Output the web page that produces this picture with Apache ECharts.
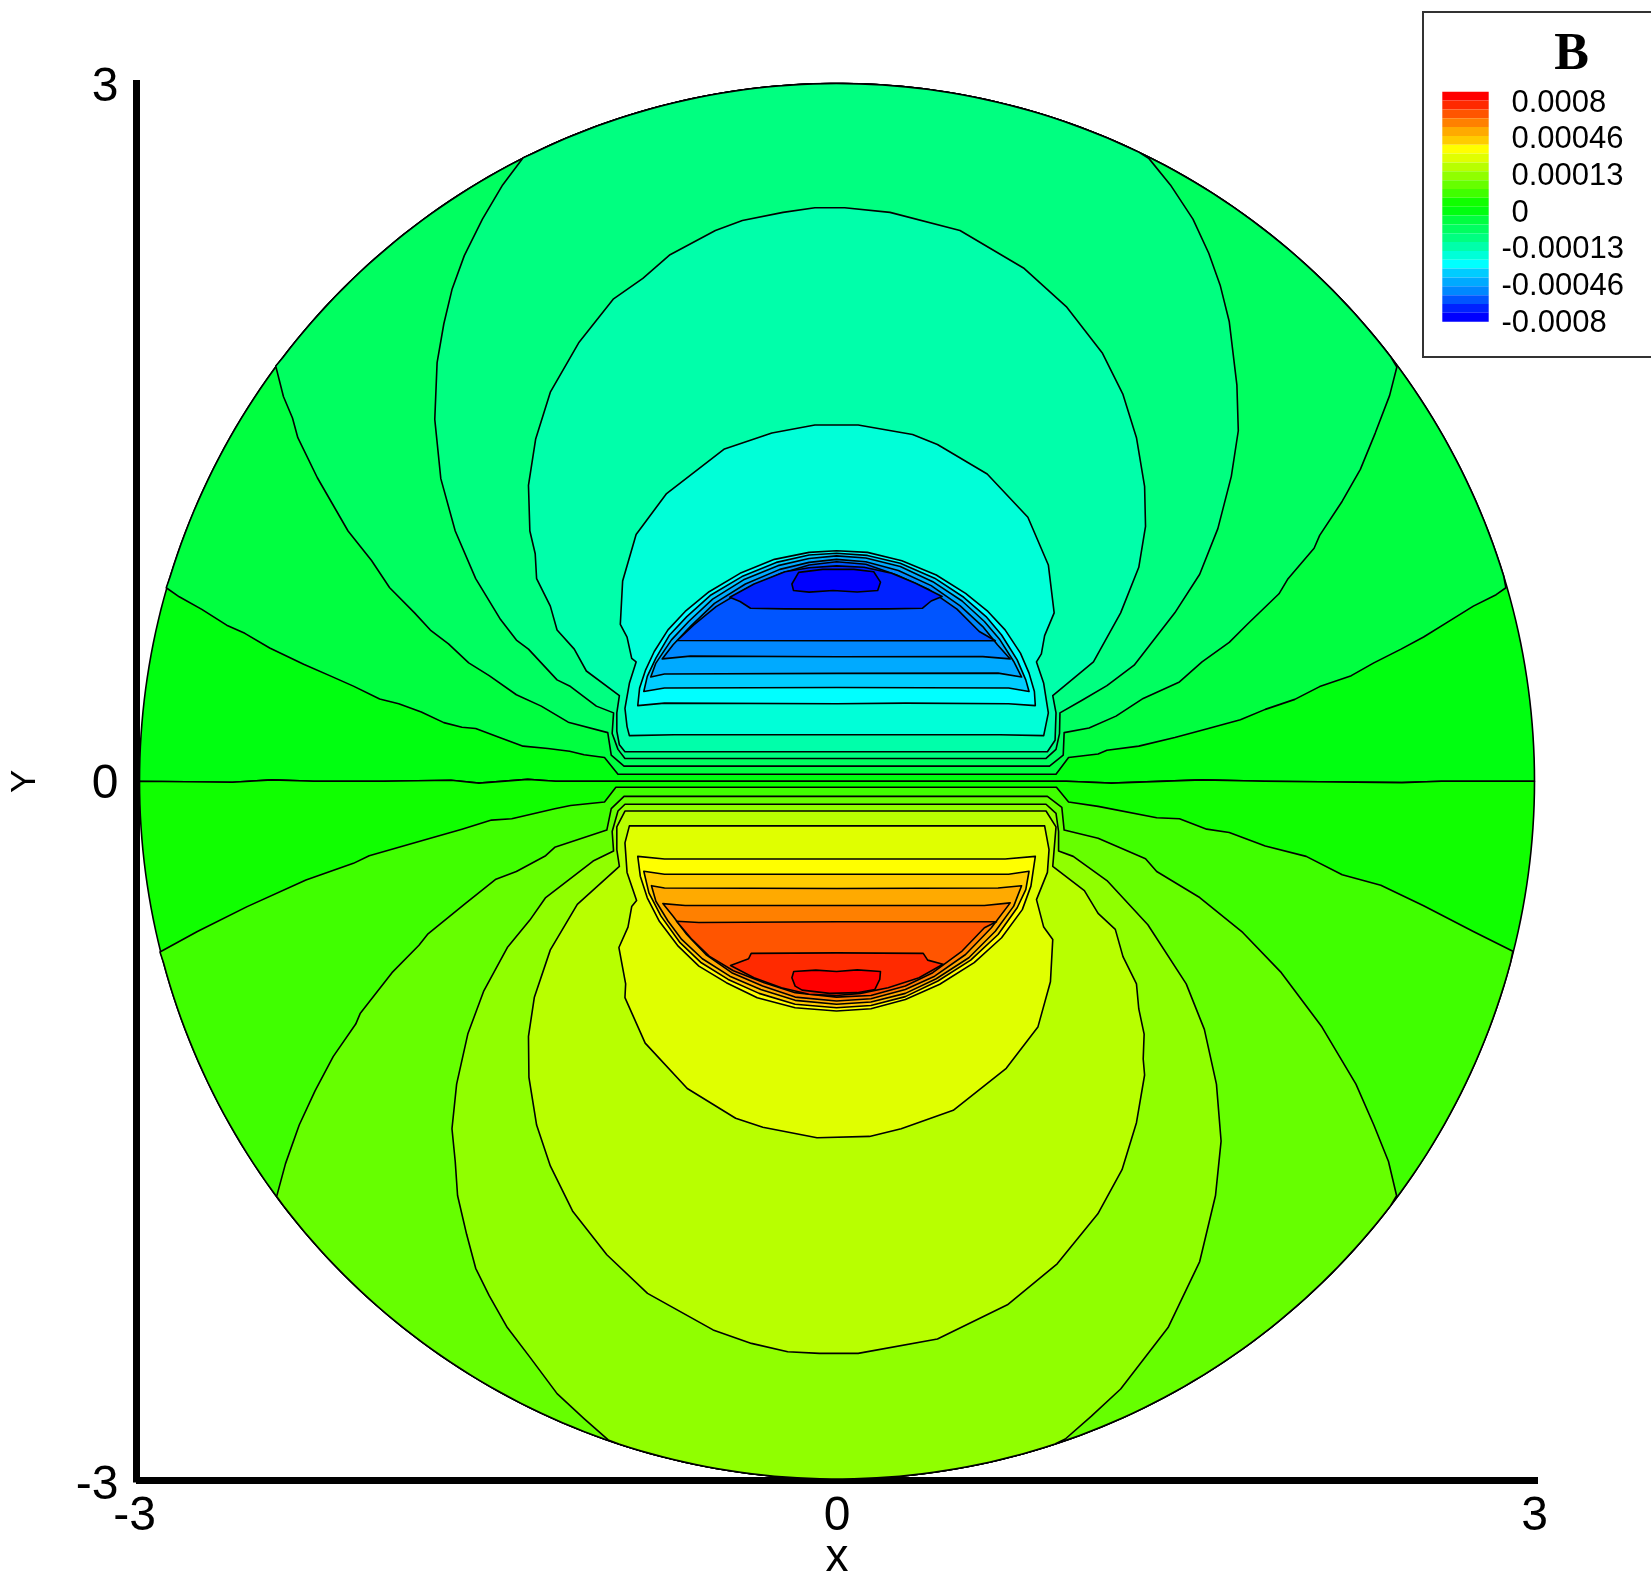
<!DOCTYPE html>
<html>
<head>
<meta charset="utf-8">
<title>B contour</title>
<script src="https://cdn.jsdelivr.net/npm/echarts@6/dist/echarts.min.js"></script>
<style>
  html, body { margin: 0; padding: 0; background: #fff; }
  #chart { width: 1651px; height: 1577px; }
</style>
</head>
<body>
<div id="chart"></div>
<script>
// axis
const xTicks = [-3, 0, 3];
const yTicks = [-3, 0, 3];
const legendLabels = ['0.0008', '0.00046', '0.00013', '0', '-0.00013', '-0.00046', '-0.0008'];

// colour levels, top of the legend to the bottom
const levelColors = [
  '#ff0000', '#ff2a00', '#ff5500', '#ff8000', '#ffaa00', '#ffcc00', '#ffff00',
  '#e0ff00', '#b8ff00', '#90ff00', '#66ff00', '#40ff00', '#10ff00',
  '#00ff10', '#00ff40', '#00ff60', '#00ff80', '#00ffaa', '#00ffd8', '#00ffff',
  '#00ccff', '#00aaff', '#0088ff', '#0055ff', '#0022ff', '#0000ff'
];

// contour lines, in x/y data units
const zeroLine = [[-3,0],[-2.6,-.004],[-2.43,.006],[-2.25,0],[-1.95,0],[-1.66,.004],[-1.54,-.008],[-1.33,.008],[-1.21,0],[-.99,0],[0,0],[.986,0],[1.18,-.008],[1.57,.006],[1.84,0],[2.43,-.006],[2.6,0],[3,0]];

// upper half (negative B): first three lines end on the rim
const upA = [[-2.885,.832],[-2.829,.793],[-2.732,.739],[-2.625,.671],[-2.547,.636],[-2.44,.573],[-2.294,.503],[-2.177,.452],[-2.08,.409],[-1.967,.354],[-1.885,.333],[-1.788,.298],[-1.691,.252],[-1.613,.232],[-1.554,.227],[-1.457,.19],[-1.35,.151],[-1.243,.141],[-1.15,.129],[-1.088,.114],[-1,.102],[-.942,.03],[.942,.03],[.996,.102],[1.123,.117],[1.161,.133],[1.298,.151],[1.453,.188],[1.589,.225],[1.735,.264],[1.842,.309],[1.969,.352],[2.076,.407],[2.212,.454],[2.309,.509],[2.426,.568],[2.523,.62],[2.621,.681],[2.737,.753],[2.835,.802],[2.877,.832]];
const upB = [[-2.414,1.785],[-2.381,1.654],[-2.342,1.562],[-2.319,1.477],[-2.235,1.305],[-2.103,1.076],[-2.002,.949],[-1.924,.832],[-1.817,.724],[-1.749,.65],[-1.671,.591],[-1.584,.509],[-1.496,.454],[-1.379,.372],[-1.272,.323],[-1.156,.254],[-.986,.209],[-.971,.112],[-.916,.065],[.914,.065],[.973,.112],[.977,.209],[1.084,.229],[1.2,.28],[1.317,.356],[1.473,.427],[1.57,.513],[1.687,.597],[1.765,.675],[1.901,.806],[1.94,.871],[2.052,1.002],[2.076,1.057],[2.173,1.204],[2.251,1.341],[2.315,1.497],[2.377,1.659],[2.408,1.781]];
const upC = [[-1.35,2.681],[-1.438,2.564],[-1.525,2.417],[-1.603,2.26],[-1.656,2.114],[-1.691,1.967],[-1.72,1.8],[-1.73,1.556],[-1.704,1.301],[-1.642,1.076],[-1.554,.871],[-1.447,.695],[-1.379,.607],[-1.327,.568],[-1.204,.436],[-1.146,.407],[-1.035,.323],[-.961,.294],[-.967,.205],[-.942,.137],[-.912,.098],[.899,.098],[.942,.137],[.957,.205],[.959,.294],[1.054,.348],[1.161,.411],[1.278,.499],[1.453,.724],[1.56,.89],[1.638,1.086],[1.696,1.311],[1.726,1.507],[1.72,1.703],[1.687,1.977],[1.648,2.133],[1.599,2.27],[1.531,2.417],[1.434,2.564],[1.342,2.677]];
const upD = [[-.095,2.466],[-.232,2.446],[-.407,2.411],[-.523,2.368],[-.718,2.264],[-.835,2.162],[-.961,2.074],[-1.111,1.885],[-1.233,1.673],[-1.296,1.472],[-1.327,1.272],[-1.321,1.076],[-1.298,.978],[-1.292,.871],[-1.233,.753],[-1.204,.65],[-1.13,.568],[-1.078,.474],[-.936,.368],[-.947,.294],[-.947,.215],[-.936,.157],[-.912,.127],[.905,.127],[.938,.176],[.942,.294],[.928,.368],[1.103,.513],[1.22,.724],[1.298,.92],[1.327,1.096],[1.323,1.268],[1.288,1.477],[1.23,1.663],[1.142,1.84],[.986,2.041],[.802,2.207],[.529,2.368],[.228,2.446],[.033,2.466]];
const upE = [[-.095,1.532],[-.28,1.497],[-.484,1.429],[-.733,1.237],[-.864,1.061],[-.922,.861],[-.932,.675],[-.903,.62],[-.883,.528],[-.864,.513],[-.893,.421],[-.912,.313],[-.903,.235],[-.893,.196],[-.7,.2],[.7,.2],[.889,.196],[.909,.294],[.889,.421],[.858,.513],[.879,.548],[.893,.626],[.934,.724],[.909,.93],[.821,1.135],[.646,1.321],[.432,1.448],[.325,1.491],[.091,1.532]];
const upF = [[-.857,.325],[-.849,.401],[-.823,.479],[-.786,.558],[-.727,.651],[-.653,.73],[-.55,.815],[-.417,.894],[-.269,.954],[-.12,.984],[-.002,.991],[.131,.984],[.279,.948],[.427,.887],[.553,.808],[.649,.73],[.723,.651],[.789,.551],[.826,.465],[.849,.386],[.853,.325],[.738,.333],[.294,.336],[0,.333],[-.742,.336]];
const upG = [[-.831,.386],[-.816,.451],[-.779,.529],[-.72,.629],[-.646,.708],[-.542,.801],[-.409,.88],[-.261,.941],[-.12,.973],[-.002,.98],[.131,.971],[.272,.937],[.42,.873],[.545,.791],[.641,.708],[.708,.629],[.775,.522],[.812,.436],[.826,.386],[.738,.401],[0,.403],[-.742,.401]];
const upH = [[-.801,.448],[-.779,.508],[-.712,.608],[-.638,.687],[-.535,.783],[-.402,.866],[-.254,.927],[-.12,.958],[-.002,.969],[.124,.96],[.272,.923],[.412,.858],[.538,.775],[.634,.687],[.701,.608],[.76,.515],[.794,.448],[.693,.465],[0,.464],[-.742,.461]];
const upI = [[-.752,.526],[-.705,.587],[-.631,.665],[-.527,.765],[-.394,.848],[-.246,.911],[-.12,.941],[-.002,.954],[.124,.944],[.264,.906],[.405,.841],[.53,.754],[.627,.665],[.69,.587],[.745,.526],[.627,.536],[0,.535],[-.631,.538]];
const upJ = [[-.687,.605],[-.616,.672],[-.52,.751],[-.387,.83],[-.239,.894],[-.12,.93],[-.002,.944],[.124,.933],[.257,.887],[.397,.823],[.516,.74],[.612,.644],[.681,.604],[0,.604]];
const upK = [[-.461,.791],[-.357,.848],[-.224,.901],[-.12,.918],[-.002,.926],[.116,.92],[.235,.894],[.338,.851],[.452,.794],[.405,.775],[.368,.744],[.22,.741],[0,.74],[-.224,.741],[-.372,.744],[-.417,.773]];
const upL = [[-.165,.898],[-.061,.911],[.072,.911],[.158,.901],[.187,.856],[.175,.82],[.087,.814],[-.017,.82],[-.12,.813],[-.187,.82],[-.194,.848]];

// lower half (positive B)
const lowA = [[-2.912,-.734],[-2.751,-.646],[-2.537,-.539],[-2.284,-.425],[-2.08,-.353],[-2.012,-.32],[-1.749,-.245],[-1.613,-.206],[-1.486,-.167],[-1.399,-.161],[-1.214,-.118],[-1.146,-.104],[-1,-.089],[-.951,-.026],[.944,-.026],[.996,-.089],[1.123,-.108],[1.375,-.157],[1.473,-.161],[1.59,-.206],[1.687,-.22],[1.842,-.278],[2.018,-.323],[2.173,-.402],[2.339,-.447],[2.523,-.535],[2.737,-.646],[2.907,-.731]];
const lowB = [[-2.41,-1.785],[-2.372,-1.644],[-2.313,-1.478],[-2.245,-1.331],[-2.167,-1.184],[-2.07,-1.044],[-2.051,-.999],[-1.914,-.823],[-1.798,-.705],[-1.759,-.656],[-1.603,-.529],[-1.467,-.421],[-1.379,-.388],[-1.253,-.32],[-1.214,-.284],[-.99,-.21],[-.971,-.118],[-.916,-.065],[.905,-.065],[.967,-.112],[.977,-.21],[1.123,-.245],[1.327,-.333],[1.375,-.388],[1.56,-.5],[1.745,-.65],[1.911,-.823],[2.086,-1.057],[2.232,-1.302],[2.309,-1.478],[2.372,-1.635],[2.407,-1.782]];
const lowC = [[-.984,-2.832],[-1.088,-2.74],[-1.204,-2.633],[-1.321,-2.476],[-1.418,-2.349],[-1.496,-2.212],[-1.554,-2.094],[-1.593,-1.948],[-1.632,-1.781],[-1.642,-1.635],[-1.656,-1.494],[-1.636,-1.302],[-1.588,-1.087],[-1.519,-.901],[-1.418,-.715],[-1.321,-.597],[-1.253,-.5],[-1.049,-.343],[-.961,-.3],[-.967,-.216],[-.942,-.128],[-.912,-.099],[.899,-.099],[.942,-.138],[.953,-.216],[.953,-.3],[1.016,-.323],[1.161,-.427],[1.337,-.617],[1.502,-.871],[1.58,-1.067],[1.632,-1.302],[1.652,-1.547],[1.628,-1.781],[1.56,-2.065],[1.424,-2.349],[1.22,-2.613],[1.093,-2.731],[.982,-2.828]];
const lowD = [[-.076,-2.46],[-.212,-2.453],[-.368,-2.417],[-.533,-2.359],[-.815,-2.202],[-.99,-2.036],[-1.136,-1.85],[-1.233,-1.654],[-1.292,-1.478],[-1.325,-1.273],[-1.327,-1.097],[-1.302,-.93],[-1.233,-.725],[-1.117,-.529],[-.936,-.366],[-.947,-.294],[-.947,-.196],[-.912,-.128],[.899,-.128],[.942,-.196],[.928,-.366],[1.064,-.47],[1.123,-.568],[1.197,-.637],[1.23,-.754],[1.288,-.871],[1.298,-.979],[1.321,-1.087],[1.317,-1.194],[1.323,-1.263],[1.288,-1.468],[1.226,-1.67],[1.122,-1.86],[.947,-2.075],[.733,-2.251],[.432,-2.398],[.091,-2.46]];
const lowE = [[-.086,-1.533],[-.319,-1.488],[-.436,-1.449],[-.644,-1.321],[-.825,-1.126],[-.912,-.93],[-.909,-.871],[-.938,-.715],[-.899,-.627],[-.883,-.539],[-.862,-.513],[-.903,-.392],[-.912,-.265],[-.893,-.192],[.893,-.192],[.912,-.294],[.905,-.392],[.858,-.509],[.889,-.627],[.928,-.68],[.918,-.862],[.864,-1.057],[.728,-1.234],[.5,-1.415],[.276,-1.494],[.14,-1.527]];
const lowF = [[-.857,-.323],[-.846,-.408],[-.816,-.501],[-.764,-.602],[-.683,-.709],[-.594,-.795],[-.476,-.866],[-.343,-.931],[-.18,-.974],[-.002,-.988],[.146,-.978],[.294,-.938],[.442,-.873],[.59,-.78],[.708,-.673],[.797,-.552],[.834,-.451],[.853,-.323],[.723,-.334],[0,-.334],[-.742,-.334]];
const lowG = [[-.831,-.387],[-.809,-.48],[-.757,-.58],[-.675,-.694],[-.587,-.778],[-.468,-.852],[-.335,-.912],[-.18,-.959],[-.002,-.974],[.146,-.964],[.294,-.926],[.434,-.859],[.575,-.769],[.693,-.659],[.775,-.544],[.812,-.466],[.826,-.387],[.738,-.4],[0,-.4],[-.742,-.4]];
const lowH = [[-.798,-.449],[-.779,-.516],[-.727,-.601],[-.668,-.68],[-.579,-.763],[-.461,-.838],[-.328,-.895],[-.18,-.942],[-.002,-.959],[.146,-.949],[.294,-.912],[.427,-.849],[.567,-.759],[.681,-.645],[.76,-.537],[.794,-.449],[.693,-.459],[0,-.461],[-.742,-.459]];
const lowI = [[-.749,-.526],[-.705,-.58],[-.646,-.659],[-.564,-.745],[-.453,-.823],[-.32,-.88],[-.18,-.928],[-.002,-.945],[.146,-.935],[.294,-.895],[.42,-.838],[.553,-.745],[.664,-.63],[.745,-.523],[.634,-.534],[0,-.534],[-.653,-.534]];
const lowJ = [[-.69,-.602],[-.624,-.68],[-.55,-.752],[-.446,-.815],[-.313,-.866],[-.18,-.909],[-.002,-.928],[.146,-.921],[.294,-.88],[.412,-.823],[.538,-.73],[.634,-.63],[.686,-.604],[0,-.604],[-.594,-.607]];
const lowK = [[-.458,-.792],[-.38,-.763],[-.369,-.74],[-.002,-.738],[.371,-.74],[.39,-.769],[.456,-.787],[.353,-.845],[.22,-.888],[.101,-.912],[-.002,-.921],[-.12,-.916],[-.239,-.888],[-.357,-.845]];
const lowL = [[-.186,-.818],[-.091,-.812],[-.002,-.818],[.087,-.811],[.187,-.818],[.184,-.852],[.163,-.895],[.087,-.909],[-.032,-.912],[-.15,-.898],[-.18,-.881],[-.194,-.845]];

// painter's order: each band is drawn over the previous one
// rim: +1/-1 closes the line along the top/bottom of the r=3 circle
const bands = [
  { pts: zeroLine, level: 13, rim: 1 },
  { pts: upA, level: 14, rim: 1 },
  { pts: upB, level: 15, rim: 1 },
  { pts: upC, level: 16, rim: 1 },
  { pts: upD, level: 17 },
  { pts: upE, level: 18 },
  { pts: upF, level: 19 },
  { pts: upG, level: 20 },
  { pts: upH, level: 21 },
  { pts: upI, level: 22 },
  { pts: upJ, level: 23 },
  { pts: upK, level: 24 },
  { pts: upL, level: 25 },
  { pts: zeroLine, level: 12, rim: -1 },
  { pts: lowA, level: 11, rim: -1 },
  { pts: lowB, level: 10, rim: -1 },
  { pts: lowC, level: 9, rim: -1 },
  { pts: lowD, level: 8 },
  { pts: lowE, level: 7 },
  { pts: lowF, level: 6 },
  { pts: lowG, level: 5 },
  { pts: lowH, level: 4 },
  { pts: lowI, level: 3 },
  { pts: lowJ, level: 2 },
  { pts: lowK, level: 1 },
  { pts: lowL, level: 0 },
];

const RADIUS = 3;

function closeAlongRim(pts, rim) {
  const out = pts.slice();
  const last = pts[pts.length - 1];
  const first = pts[0];
  const a0 = Math.atan2(Math.abs(last[1]), last[0]);
  const a1 = Math.atan2(Math.abs(first[1]), first[0]);
  const steps = Math.ceil((a1 - a0) * 60);
  for (let i = 1; i < steps; i++) {
    const a = a0 + (a1 - a0) * i / steps;
    out.push([RADIUS * Math.cos(a), rim * RADIUS * Math.sin(a)]);
  }
  return out;
}

const chart = echarts.init(document.getElementById('chart'), null, { renderer: 'canvas' });
const FONT = '"Liberation Sans", Arial, sans-serif';

function renderBand(params, api) {
  const band = bands[params.dataIndex];
  const pts = band.rim ? closeAlongRim(band.pts, band.rim) : band.pts;
  return {
    type: 'polygon',
    shape: { points: pts.map((p) => api.coord(p)) },
    style: { fill: levelColors[band.level], stroke: '#000', lineWidth: 1.6, lineJoin: 'round' },
  };
}

// legend text and frame
const legendY = [102, 138, 175, 212, 248, 285, 322];
const legendGraphics = [
  { type: 'rect', shape: { x: 1423, y: 12, width: 240, height: 345 }, style: { fill: '#fff', stroke: '#333', lineWidth: 2 }, z: 0 },
  { type: 'text', style: { x: 1571.5, y: 56, text: 'B', font: 'bold 52px "Liberation Serif", serif', fill: '#000', align: 'center', verticalAlign: 'middle' }, z: 3 },
].concat(legendLabels.map((t, i) => ({
  type: 'text',
  z: 3,
  style: {
    x: t.startsWith('-') ? 1501.5 : 1511.5,
    y: legendY[i] + 1,
    text: t,
    font: '31px ' + FONT,
    fill: '#000',
    align: 'left',
    verticalAlign: 'middle',
  },
})));

chart.setOption({
  animation: false,
  backgroundColor: '#fff',
  grid: [
    { left: 139.5, right: 116.5, top: 83.5, bottom: 98, outerBoundsMode: 'none' },
    { left: 1442.3, top: 91.7, width: 46.4, height: 230, outerBoundsMode: 'none' },
  ],
  xAxis: [
    {
      type: 'value', gridIndex: 0, min: -3, max: 3, interval: 3, offset: 1,
      name: 'x', nameLocation: 'middle', nameGap: 55, nameMoveOverlap: false,
      nameTextStyle: { fontFamily: FONT, fontSize: 46, color: '#000', verticalAlign: 'top' },
      axisLine: { show: true, onZero: false, lineStyle: { color: '#000', width: 7, cap: 'square' } },
      axisTick: { show: false },
      splitLine: { show: false },
      axisLabel: {
        color: '#000', fontFamily: FONT, fontSize: 48, margin: 13,
        formatter: (v) => (v === -3 ? '{left|-3}' : (xTicks.includes(v) ? String(v) : '')),
        rich: { left: { fontFamily: FONT, fontSize: 48, color: '#000', padding: [0, 10, 0, 0] } },
      },
    },
    { type: 'value', gridIndex: 1, min: 0, max: 1, show: false },
  ],
  yAxis: [
    {
      type: 'value', gridIndex: 0, min: -3, max: 3, interval: 3, offset: 3,
      name: 'Y', nameLocation: 'middle', nameGap: 94,
      nameTextStyle: { fontFamily: FONT, fontSize: 35, color: '#000' },
      axisLine: { show: true, onZero: false, lineStyle: { color: '#000', width: 7, cap: 'square' } },
      axisTick: { show: false },
      splitLine: { show: false },
      axisLabel: {
        color: '#000', fontFamily: FONT, fontSize: 48, margin: 18, padding: [8, 0, 0, 0],
        formatter: (v) => (v === -3 ? '{low|-3}' : (yTicks.includes(v) ? String(v) : '')),
        rich: { low: { fontFamily: FONT, fontSize: 48, color: '#000', padding: [6, 0, 0, 0] } },
      },
    },
    { type: 'category', gridIndex: 1, inverse: true, show: false, data: levelColors.map((c, i) => i) },
  ],
  graphic: legendGraphics,
  series: [
    {
      type: 'custom',
      coordinateSystem: 'cartesian2d',
      xAxisIndex: 0,
      yAxisIndex: 0,
      renderItem: renderBand,
      data: bands.map((b, i) => [i]),
      encode: { x: [], y: [] },
      silent: true,
      clip: false,
      z: 2,
    },
    {
      type: 'bar',
      xAxisIndex: 1,
      yAxisIndex: 1,
      barCategoryGap: '0%',
      silent: true,
      z: 2,
      data: levelColors.map((c) => ({ value: 1, itemStyle: { color: c } })),
    },
  ],
});
window.addEventListener('resize', () => chart.resize());
</script>
</body>
</html>
